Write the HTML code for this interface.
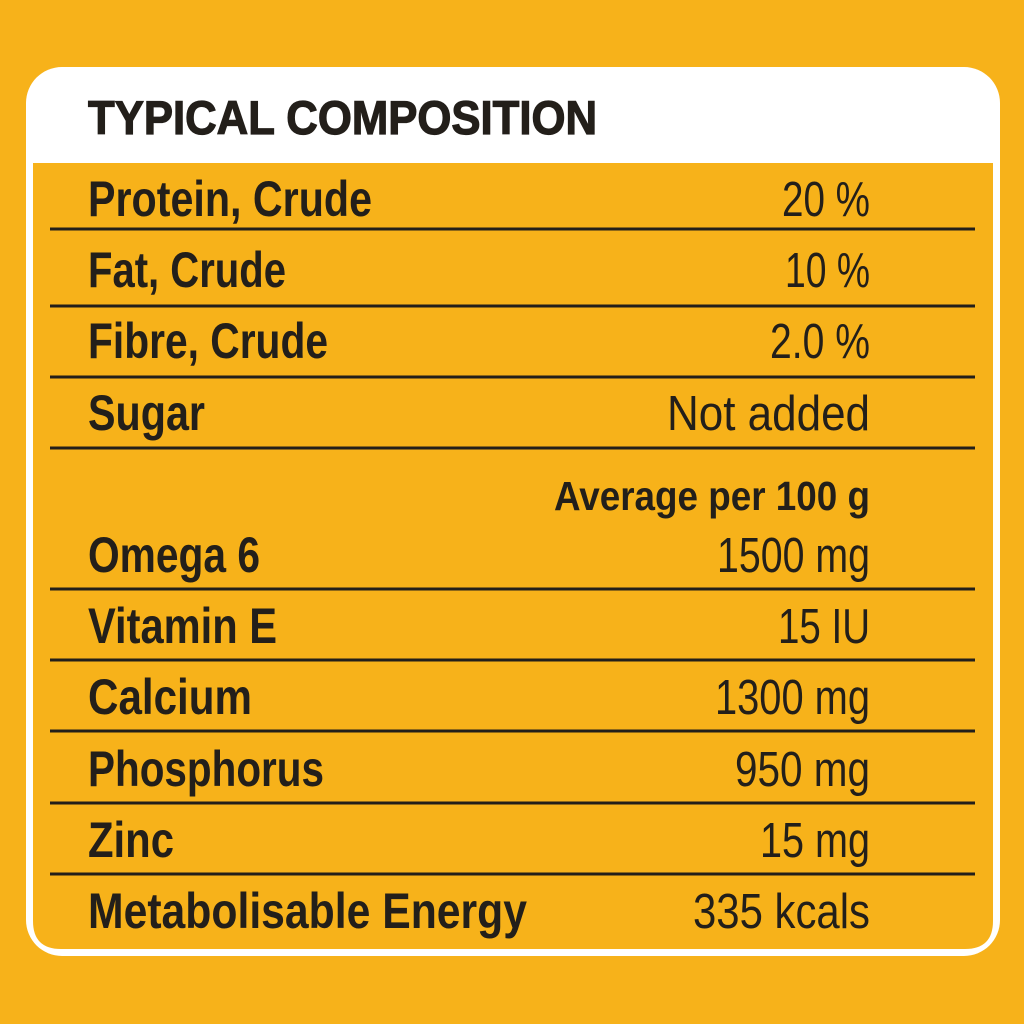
<!DOCTYPE html>
<html><head><meta charset="utf-8"><style>html,body{margin:0;padding:0;background:#F7B21A;}svg{display:block}</style></head><body>
<svg width="1024" height="1024" xmlns="http://www.w3.org/2000/svg">
<rect width="1024" height="1024" fill="#F7B21A"/>
<rect x="26" y="67" width="974" height="889" rx="36" fill="#fff"/>
<path d="M33 163 H993 V921 Q993 949 965 949 H61 Q33 949 33 921 Z" fill="#F7B21A"/>
<g stroke="#231f1a" stroke-width="3">
<line x1="50" x2="975" y1="229" y2="229"/><line x1="50" x2="975" y1="306" y2="306"/>
<line x1="50" x2="975" y1="377" y2="377"/><line x1="50" x2="975" y1="448" y2="448"/>
<line x1="50" x2="975" y1="589" y2="589"/><line x1="50" x2="975" y1="660" y2="660"/>
<line x1="50" x2="975" y1="731" y2="731"/><line x1="50" x2="975" y1="803" y2="803"/>
<line x1="50" x2="975" y1="874" y2="874"/>
</g>
<g font-family="Liberation Sans, sans-serif" fill="#231f1a">
<text x="88" y="134" font-size="47" font-weight="bold" stroke="#231f1a" stroke-width="1.2" textLength="509" lengthAdjust="spacingAndGlyphs">TYPICAL COMPOSITION</text>
<g font-size="50" font-weight="bold">
<text x="88" y="216" textLength="284" lengthAdjust="spacingAndGlyphs">Protein, Crude</text>
<text x="88" y="287" textLength="198" lengthAdjust="spacingAndGlyphs">Fat, Crude</text>
<text x="88" y="358" textLength="240" lengthAdjust="spacingAndGlyphs">Fibre, Crude</text>
<text x="88" y="430" textLength="117" lengthAdjust="spacingAndGlyphs">Sugar</text>
<text x="88" y="572" textLength="172" lengthAdjust="spacingAndGlyphs">Omega 6</text>
<text x="88" y="643" textLength="189" lengthAdjust="spacingAndGlyphs">Vitamin E</text>
<text x="88" y="714" textLength="164" lengthAdjust="spacingAndGlyphs">Calcium</text>
<text x="88" y="786" textLength="236" lengthAdjust="spacingAndGlyphs">Phosphorus</text>
<text x="88" y="857" textLength="86" lengthAdjust="spacingAndGlyphs">Zinc</text>
<text x="88" y="928" textLength="439" lengthAdjust="spacingAndGlyphs">Metabolisable Energy</text>
</g>
<text x="554" y="510" font-size="41" font-weight="bold" textLength="316" lengthAdjust="spacingAndGlyphs">Average per 100 g</text>
<g font-size="49">
<text x="782" y="216" textLength="88" lengthAdjust="spacingAndGlyphs">20 %</text>
<text x="785" y="287" textLength="85" lengthAdjust="spacingAndGlyphs">10 %</text>
<text x="770" y="358" textLength="100" lengthAdjust="spacingAndGlyphs">2.0 %</text>
<text x="667" y="430" textLength="203" lengthAdjust="spacingAndGlyphs">Not added</text>
<text x="717" y="572" textLength="153" lengthAdjust="spacingAndGlyphs">1500 mg</text>
<text x="778" y="643" textLength="92" lengthAdjust="spacingAndGlyphs">15 IU</text>
<text x="715" y="714" textLength="155" lengthAdjust="spacingAndGlyphs">1300 mg</text>
<text x="735" y="786" textLength="135" lengthAdjust="spacingAndGlyphs">950 mg</text>
<text x="760" y="857" textLength="110" lengthAdjust="spacingAndGlyphs">15 mg</text>
<text x="693" y="928" textLength="177" lengthAdjust="spacingAndGlyphs">335 kcals</text>
</g>
</g>
</svg>
</body></html>
